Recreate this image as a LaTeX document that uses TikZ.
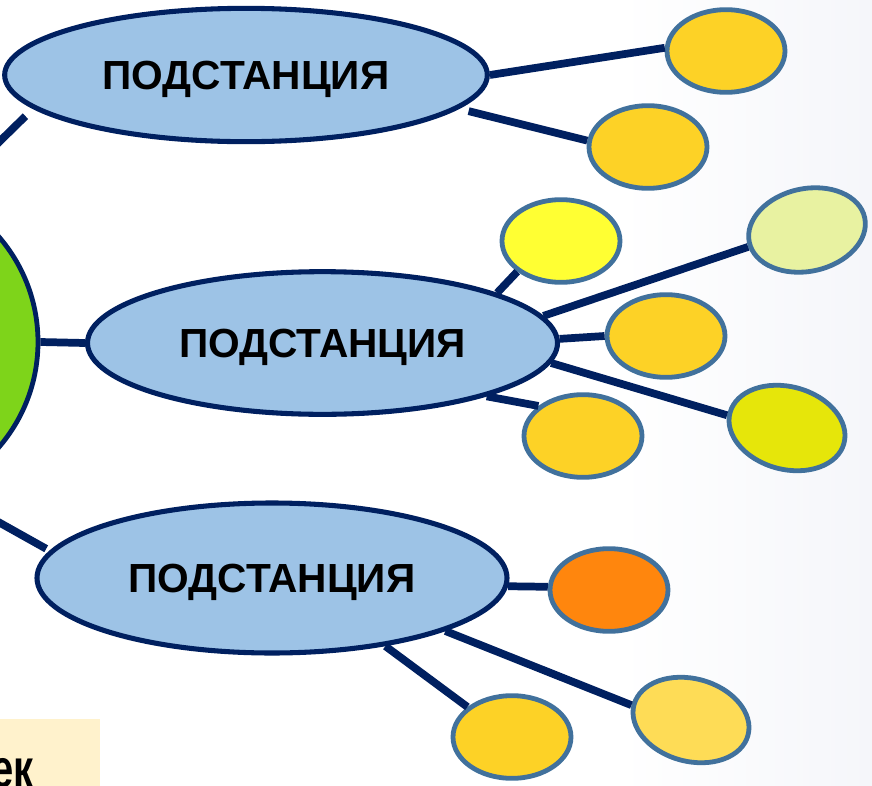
\documentclass[tikz,border=0pt]{standalone}
\usepackage{fontspec}
\setmainfont{Liberation Sans}
\usetikzlibrary{shapes.geometric}
\definecolor{navy}{HTML}{002060}
\definecolor{hubblue}{HTML}{9DC3E6}
\definecolor{leafedge}{HTML}{41719C}
\definecolor{gold}{HTML}{FDD226}
\definecolor{lemon}{HTML}{FFFF33}
\definecolor{palegreen}{HTML}{E8F2A1}
\definecolor{limey}{HTML}{E6E60A}
\definecolor{orangey}{HTML}{FF860D}
\definecolor{lightgold}{HTML}{FEDC56}
\definecolor{grass}{HTML}{7ED41A}
\definecolor{cream}{HTML}{FFF2CC}
\definecolor{bgright}{HTML}{F5F6FA}
\begin{document}
\begin{tikzpicture}[x=0.75pt,y=-0.75pt,
  hub/.style={ellipse, draw=navy, line width=3.8pt, fill=hubblue, inner sep=0pt,
    text depth=0pt, font=\bfseries\fontsize{30.5}{32}\selectfont},
  leaf/.style={ellipse, draw=leafedge, line width=3.6pt, inner sep=0pt,
    minimum width=88.5pt, minimum height=62pt},
  link/.style={draw=navy, line width=5.8pt}]
\useasboundingbox (0,0) rectangle (872,786);
\clip (0,0) rectangle (872,786);
\fill[white] (0,0) rectangle (872,786);
\shade[left color=white, right color=bgright] (620,0) rectangle (872,786);

% centre circle
\node[circle, draw=navy, line width=3.6pt, fill=grass, minimum size=241.5pt, inner sep=0pt] (G) at (-123,342) {};

% hubs
\node[hub, minimum width=362pt, minimum height=100pt] (T) at (246,75) {ПОДСТАНЦИЯ};
\node[hub, minimum width=352.5pt, minimum height=107pt] (M) at (322.5,343) {ПОДСТАНЦИЯ};
\node[hub, minimum width=352.5pt, minimum height=112.5pt] (B) at (272,578) {ПОДСТАНЦИЯ};

% leaves
\node[leaf, fill=gold] (a) at (726,51) {};
\node[leaf, fill=gold] (b) at (648,147) {};
\node[leaf, fill=lemon] (c) at (561,241) {};
\node[leaf, fill=palegreen, rotate=12] (d) at (807,230) {};
\node[leaf, fill=gold] (e) at (666,336) {};
\node[leaf, fill=gold] (f) at (583,436) {};
\node[leaf, fill=limey, rotate=-15] (g) at (787,428) {};
\node[leaf, fill=orangey] (h) at (609,590) {};
\node[leaf, fill=gold] (i) at (512,737) {};
\node[leaf, fill=lightgold, rotate=-15] (j) at (691,720) {};

% connectors
\draw[link, shorten >=8pt] (G.65) -- (T.189);
\draw[link] (G.0) -- (M.180);
\draw[link, shorten >=3pt] (G.-66) -- (B.173);
\draw[link] (T.0) -- (a.177);
\draw[link, shorten <=7.5pt] (T.-9) -- (b.174);
\draw[link] (M.16) -- (c.215);
\draw[link] (M.7) -- (d.184);
\draw[link] (M.1) -- (e.180);
\draw[link] (M.-5) -- (g.183);
\draw[link] (M.-18) -- (f.146);
\draw[link] (B.-2) -- (h.177);
\draw[link] (B.-17) -- (j.181);
\draw[link] (B.-31) -- (i.146);

% bottom-left box
\node[fill=cream, anchor=north west, minimum width=75pt, minimum height=60pt, inner sep=0pt] (box) at (0,719) {};
\node[anchor=base east, inner sep=0pt, font=\bfseries\fontsize{30}{32}\selectfont] (ek) at (34,787) {\scalebox{1}[1.35]{ек}};
\end{tikzpicture}
\end{document}
